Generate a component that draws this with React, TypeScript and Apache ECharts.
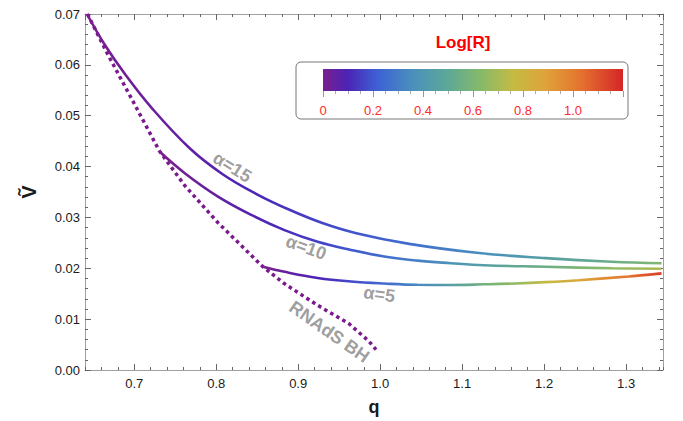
import React, { useEffect, useRef } from "react";
import * as echarts from "echarts";

// ---------- data ----------
const X_MIN = 0.64;
const X_MAX = 1.345;
const Y_MIN = 0;
const Y_MAX = 0.07;
const LOGR_MAX = 1.2;

const Q_A15 = [0.6424, 0.6643, 0.6887, 0.7215, 0.7677, 0.8079, 0.8492, 0.8894, 0.9295, 0.9709, 1.0354, 1.1205, 1.202, 1.2823, 1.3432];
const V_A15 = [0.07, 0.0639, 0.0582, 0.0515, 0.0436, 0.0385, 0.0346, 0.0315, 0.0289, 0.0269, 0.0248, 0.023, 0.022, 0.0213, 0.021];
const R_A15 = [0, 0.01, 0.02, 0.035, 0.055, 0.08, 0.105, 0.135, 0.165, 0.195, 0.255, 0.35, 0.45, 0.54, 0.61];

const Q_A10 = [0.7312, 0.7617, 0.8022, 0.8428, 0.8833, 0.9238, 0.9645, 1.005, 1.0455, 1.0861, 1.1266, 1.2017, 1.2827, 1.3432];
const V_A10 = [0.0429, 0.0387, 0.0341, 0.0305, 0.0275, 0.0252, 0.0236, 0.0223, 0.0215, 0.021, 0.0206, 0.0203, 0.02, 0.0199];
const R_A10 = [0, 0.02, 0.05, 0.08, 0.115, 0.155, 0.2, 0.25, 0.31, 0.38, 0.45, 0.55, 0.65, 0.71];

const Q_A5 = [0.857, 0.8833, 0.9238, 0.9645, 1.005, 1.0455, 1.0861, 1.1266, 1.165, 1.2017, 1.2422, 1.303, 1.3432];
const V_A5 = [0.0203, 0.0193, 0.0181, 0.0174, 0.017, 0.01675, 0.01672, 0.01685, 0.01702, 0.01728, 0.01766, 0.0184, 0.019];
const R_A5 = [0, 0.04, 0.1, 0.17, 0.25, 0.34, 0.45, 0.57, 0.66, 0.76, 0.87, 1.03, 1.15];

const Q_BH = [0.643, 0.668, 0.693, 0.731, 0.762, 0.802, 0.843, 0.857, 0.883, 0.923, 0.962, 0.986, 0.995];
const V_BH = [0.07, 0.062, 0.0545, 0.043, 0.0362, 0.029, 0.0225, 0.0203, 0.017, 0.0128, 0.0091, 0.0057, 0.004];

const ANNOT_TEXT = ["α=15", "α=10", "α=5", "RNAdS BH"];
const ANNOT_Q = [0.8197, 0.9097, 0.9989, 0.938];
const ANNOT_V = [0.0399, 0.0241, 0.0149, 0.0075];
const ANNOT_ROT = [-32, -20, -8, -35];

const COLORBAR_TITLE = "Log[R]";

const RAINBOW_STOPS: [number, string][] = [
  [0.0, "#7b1e8e"],
  [0.1, "#4b24b6"],
  [0.22, "#3e62d4"],
  [0.36, "#4a90bc"],
  [0.5, "#5da896"],
  [0.63, "#86b96a"],
  [0.76, "#c3bb43"],
  [0.89, "#dfa33a"],
  [1.03, "#e4732f"],
  [1.2, "#d42626"],
];

// ---------- helpers ----------
function hexToRgb(h: string) {
  const n = parseInt(h.slice(1), 16);
  return [(n >> 16) & 255, (n >> 8) & 255, n & 255];
}
function rainbow(v: number) {
  const s = RAINBOW_STOPS;
  if (v <= s[0][0]) return s[0][1];
  if (v >= s[s.length - 1][0]) return s[s.length - 1][1];
  for (let i = 1; i < s.length; i++) {
    if (v <= s[i][0]) {
      const t = (v - s[i - 1][0]) / (s[i][0] - s[i - 1][0]);
      const a = hexToRgb(s[i - 1][1]);
      const b = hexToRgb(s[i][1]);
      const c = a.map((x, k) => Math.round(x + (b[k] - x) * t));
      return `rgb(${c[0]},${c[1]},${c[2]})`;
    }
  }
  return s[s.length - 1][1];
}
function lineGradient(qs: number[], rs: number[]) {
  const q0 = qs[0];
  const q1 = qs[qs.length - 1];
  return {
    type: "linear",
    x: 0,
    y: 0,
    x2: 1,
    y2: 0,
    colorStops: qs.map((q, i) => ({ offset: (q - q0) / (q1 - q0), color: rainbow(rs[i]) })),
  };
}
const zip = (a: number[], b: number[]) => a.map((x, i) => [x, b[i]]);

const FONT = "Liberation Sans, Arial, sans-serif";
const FRAME = "#a0a0a0";
const TICK = "#666666";

export default function App() {
  const ref = useRef<HTMLDivElement>(null);
  useEffect(() => {
    if (!ref.current) return;
    const chart = echarts.init(ref.current, undefined, { renderer: "svg" });

    const grid = { left: 85, right: 20, top: 14, bottom: 51, outerBoundsMode: "none" };
    const cbGrid = { left: 323, top: 69, width: 300, height: 22, outerBoundsMode: "none" };

    const mainX = (pos: string, labels: boolean) => ({
      type: "value",
      gridIndex: 0,
      position: pos,
      min: X_MIN,
      max: X_MAX,
      splitNumber: 7,
      axisLine: { show: true, onZero: false, lineStyle: { color: FRAME, width: 1 } },
      axisTick: { show: true, inside: true, length: 6, lineStyle: { color: TICK } },
      splitLine: { show: false },
      axisLabel: {
        show: labels,
        showMinLabel: false,
        showMaxLabel: false,
        margin: 7,
        fontSize: 13,
        fontFamily: FONT,
        color: "#1a1a1a",
        formatter: (v: number) => v.toFixed(1),
      },
      ...(labels
        ? {
            name: "q",
            nameLocation: "middle",
            nameGap: 28,
            nameTextStyle: { fontSize: 18, fontWeight: "bold", fontFamily: FONT, color: "#1a1a1a" },
          }
        : {}),
    });
    const minorX = (pos: string) => ({
      type: "value",
      gridIndex: 0,
      position: pos,
      min: X_MIN,
      max: X_MAX,
      interval: 0.02,
      axisLine: { show: false, onZero: false },
      axisTick: { show: true, inside: true, length: 3, lineStyle: { color: TICK } },
      splitLine: { show: false },
      axisLabel: { show: false },
    });
    const yAx = (pos: string, labels: boolean) => ({
      type: "value",
      gridIndex: 0,
      position: pos,
      min: Y_MIN,
      max: Y_MAX,
      interval: 0.01,
      axisLine: { show: true, onZero: false, lineStyle: { color: FRAME, width: 1 } },
      axisTick: { show: true, inside: true, length: 6, lineStyle: { color: TICK } },
      minorTick: { show: true, splitNumber: 5, length: 3, lineStyle: { color: TICK } },
      splitLine: { show: false },
      axisLabel: {
        show: labels,
        margin: 5,
        fontSize: 13,
        fontFamily: FONT,
        color: "#1a1a1a",
        formatter: (v: number) => v.toFixed(2),
      },
      ...(labels
        ? {
            name: "Ṽ",
            nameLocation: "middle",
            nameGap: 46,
            nameRotate: 90,
            nameTextStyle: { fontSize: 20, fontWeight: "bold", fontFamily: FONT, color: "#1a1a1a" },
          }
        : {}),
    });

    const cbStops = RAINBOW_STOPS.map(([v, c]) => ({ offset: v / LOGR_MAX, color: c }));

    const option: any = {
      animation: false,
      backgroundColor: "#ffffff",
      grid: [grid, cbGrid],
      xAxis: [
        mainX("bottom", true),
        minorX("bottom"),
        mainX("top", false),
        minorX("top"),
        {
          type: "value",
          gridIndex: 1,
          z: 10,
          min: 0,
          max: LOGR_MAX,
          interval: 0.2,
          position: "bottom",
          axisLine: { show: false },
          axisTick: { show: true, inside: false, length: 6, lineStyle: { color: "#999" } },
          minorTick: { show: true, splitNumber: 4, length: 3, lineStyle: { color: "#aaa" } },
          splitLine: { show: false },
          axisLabel: {
            showMaxLabel: false,
            margin: 13,
            fontSize: 13,
            fontFamily: FONT,
            color: "#ff2a2a",
            formatter: (v: number) => (v === 0 ? "0" : v.toFixed(1)),
          },
        },
      ],
      yAxis: [
        yAx("left", true),
        yAx("right", false),
        { type: "value", gridIndex: 1, show: false, min: 0, max: 1 },
      ],
      graphic: [
        {
          type: "rect",
          shape: { x: 296, y: 62, width: 332, height: 57, r: 5 },
          style: { fill: "#ffffff", stroke: "#777777", lineWidth: 1 },
          z: -1,
        },
        {
          type: "rect",
          shape: { x: 323, y: 69, width: 300, height: 22 },
          style: {
            fill: new echarts.graphic.LinearGradient(0, 0, 1, 0, cbStops),
          },
          z: 2,
        },
        {
          type: "text",
          x: 463,
          y: 42,
          style: {
            text: COLORBAR_TITLE,
            fill: "#ff0000",
            font: `bold 17px ${FONT}`,
            textAlign: "center",
            textVerticalAlign: "middle",
          },
          z: 2,
        },
      ],
      series: [
        {
          type: "line",
          name: "RNAdS BH",
          xAxisIndex: 0,
          yAxisIndex: 0,
          data: zip(Q_BH, V_BH),
          showSymbol: false,
          symbol: "none",
          lineStyle: { color: "#7a1a8c", width: 3.5, type: [3.5, 3.5], cap: "butt" },
          z: 3,
        },
        ...[
          [Q_A15, V_A15, R_A15],
          [Q_A10, V_A10, R_A10],
          [Q_A5, V_A5, R_A5],
        ].map(([qs, vs, rs], i) => ({
          type: "line",
          name: ANNOT_TEXT[i],
          xAxisIndex: 0,
          yAxisIndex: 0,
          data: zip(qs, vs),
          showSymbol: false,
          symbol: "none",
          smooth: 0.4,
          lineStyle: { color: lineGradient(qs, rs), width: 2.6 },
          z: 4,
        })),
        {
          type: "scatter",
          xAxisIndex: 0,
          yAxisIndex: 0,
          symbolSize: 1,
          itemStyle: { color: "rgba(0,0,0,0)" },
          silent: true,
          z: 5,
          data: ANNOT_TEXT.map((t, i) => ({
            value: [ANNOT_Q[i], ANNOT_V[i]],
            label: {
              show: true,
              formatter: t,
              position: "inside",
              rotate: ANNOT_ROT[i],
              fontSize: 18,
              fontWeight: "bold",
              fontFamily: FONT,
              color: "#858585",
            },
          })),
        },
      ],
    };
    chart.setOption(option);
    return () => chart.dispose();
  }, []);
  return (
    <div
      ref={ref}
      style={{ position: "fixed", left: 0, top: 0, width: 683, height: 421, background: "#fff" }}
    />
  );
}
